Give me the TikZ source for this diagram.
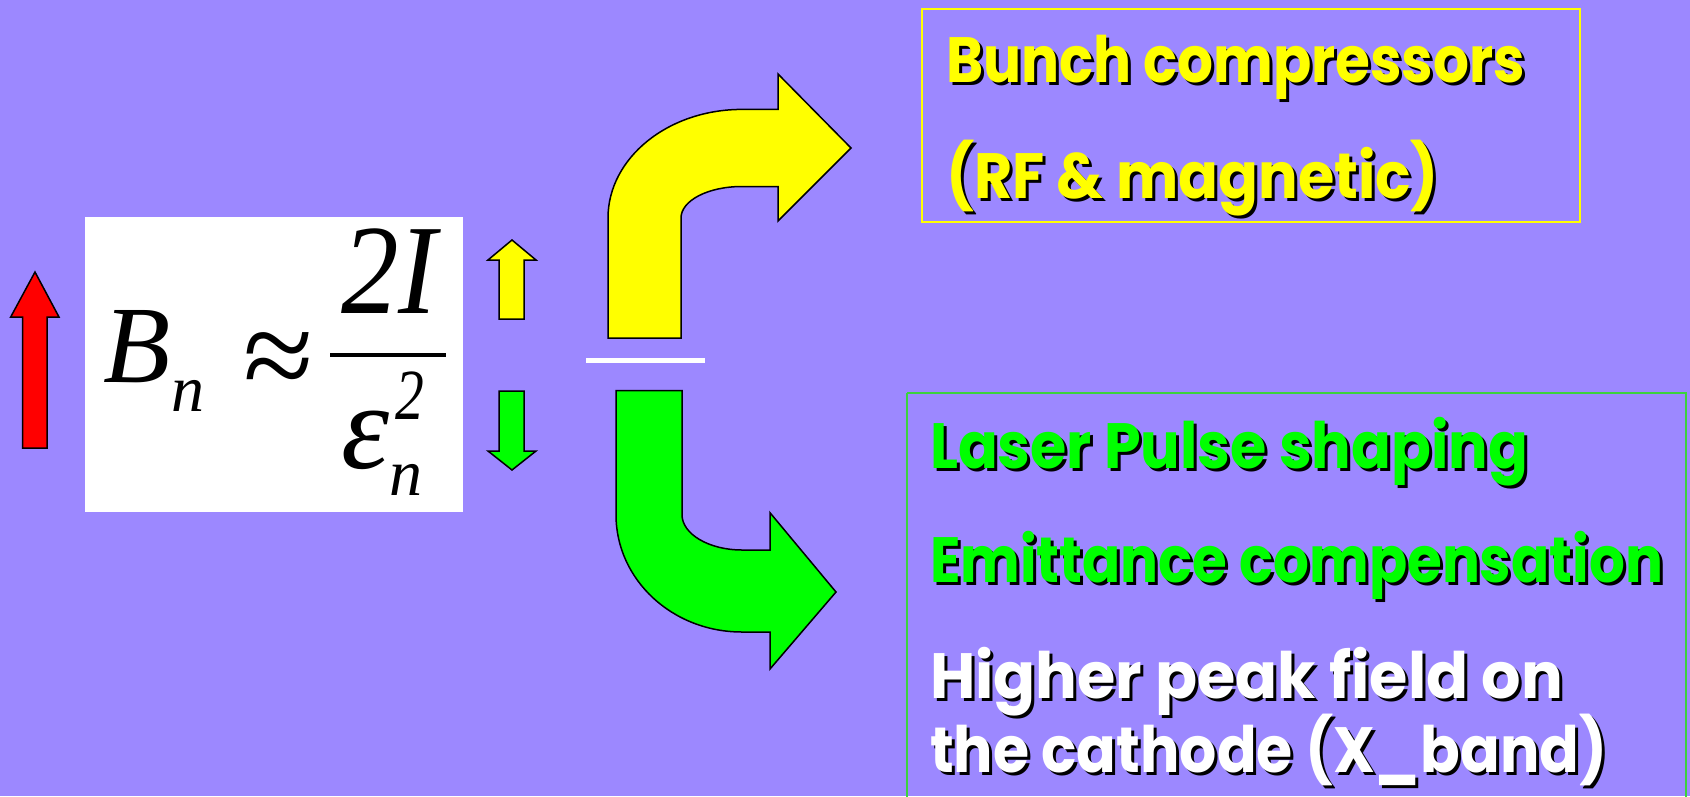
\documentclass[tikz,border=0pt]{standalone}
\usepackage{fontspec}
\usepackage{graphicx}
\setmainfont{Liberation Serif}
\newfontfamily\labelfont{Poppins}
\definecolor{bg}{RGB}{156,136,255}
\definecolor{yel}{RGB}{255,255,0}
\definecolor{grn}{RGB}{0,255,0}
\definecolor{grnline}{RGB}{60,210,60}
\definecolor{redfill}{RGB}{255,0,0}

\tikzset{
  shape outline/.style={draw=black, line width=1.5pt, line join=miter},
  caption/.style={anchor=base west, inner sep=0pt, outer sep=0pt,
    font=\labelfont\bfseries\fontsize{64}{64}\selectfont},
  formula/.style={anchor=base west, inner sep=0pt, outer sep=0pt, text=black},
  framebox/.style={line width=2pt},
}

% caption with a dark drop shadow: name, x, y, ink width, colour, text
\newcommand\shadowcaption[6]{%
  \node[caption, text=black] (#1-shadow) at (#2+3,#3+3) {\resizebox{#4pt}{\height}{#6}};
  \node[caption, text=#5] (#1) at (#2,#3) {\resizebox{#4pt}{\height}{#6}};
}

\begin{document}
\begin{tikzpicture}[x=1pt,y=-1pt]
  % background
  \fill[bg] (0,0) rectangle (1690,796);
  \useasboundingbox (0,0) rectangle (1690,796);

  % red up arrow
  \filldraw[fill=redfill, shape outline]
    (22.5,448) -- (22.5,317) -- (10.7,317) -- (35,272) -- (59,317) -- (47,317) -- (47,448) -- cycle;

  % formula panel
  \fill[white] (85,217) rectangle (463,512);
  \node[formula, font=\itshape\fontsize{110}{110}\selectfont] (B) at (103,382) {B};
  \node[formula, font=\itshape\fontsize{66}{66}\selectfont] (Bsub) at (171,411) {n};
  \node[formula, font=\fontsize{128}{128}\selectfont] (approx) at (243,398) {≈};
  \draw[line width=4pt] (330,355) -- (446,355);
  \node[formula, font=\itshape\fontsize{128}{128}\selectfont] (num) at (341,313) {\scalebox{0.9}[1]{2I}};
  \node[formula, font=\itshape\fontsize{122}{122}\selectfont] (eps) at (341,468) {ε};
  \node[formula, font=\itshape\fontsize{72}{72}\selectfont] (sq) at (395,419) {\scalebox{0.8}[1]{2}};
  \node[formula, font=\itshape\fontsize{66}{66}\selectfont] (epssub) at (389,495) {n};

  % small yellow up arrow and green down arrow
  \filldraw[fill=yel, shape outline]
    (499,319) -- (499,260) -- (488,260) -- (512,240) -- (536,260) -- (524,260) -- (524,319) -- cycle;
  \filldraw[fill=grn, shape outline]
    (499,391) -- (499,451) -- (488,451) -- (512,470) -- (536,451) -- (524,451) -- (524,391) -- cycle;

  % bent arrows
  \filldraw[fill=yel, shape outline]
    (608,338) -- (608,218) .. controls (608,158) and (668,109.4) .. (742,109.4)
    -- (778,109.4) -- (778,74) -- (851,148) -- (778,221) -- (778,186.5) -- (742,186.5)
    .. controls (708,186.5) and (681,200.6) .. (681,218) -- (681,338) -- cycle;
  \draw[white, line width=5pt] (586,360.5) -- (705,360.5);
  \filldraw[fill=grn, shape outline]
    (616,390.6) -- (682,390.6) -- (682,514.7) .. controls (682,534) and (709,550) .. (742,550)
    -- (770,550) -- (770,512.7) -- (836,592) -- (770,669) -- (770,632) -- (742,632)
    .. controls (672,632) and (616,579.4) .. (616,514.7) -- cycle;

  % upper box
  \draw[yel, framebox] (922,9) rectangle (1580,222);
  \shadowcaption{bc}{946}{82}{579}{yel}{Bunch compressors}
  \shadowcaption{rf}{946}{198}{493}{yel}{(RF \& magnetic)}

  % lower box
  \draw[grnline, framebox] (907,393) -- (1686,393) -- (1686,800) (907,393) -- (907,800);
  \shadowcaption{lp}{930}{468}{598}{grn}{Laser Pulse shaping}
  \shadowcaption{ec}{930}{582}{733}{grn}{Emittance compensation}
  \shadowcaption{hp}{930}{698}{633}{white}{Higher peak field on}
  \shadowcaption{xb}{930}{772}{677}{white}{the cathode (X\_band)}
\end{tikzpicture}
\end{document}
